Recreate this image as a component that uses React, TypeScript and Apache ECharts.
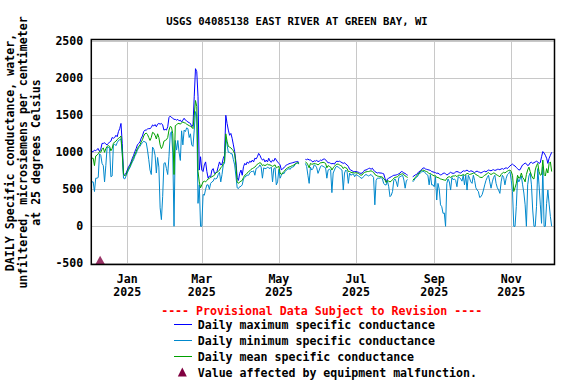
import React, { useEffect, useRef } from "react";
import * as echarts from "echarts";

const START_DATE = "2024-12-04";
const AXIS_MIN = "2024-12-03T12:00:00Z";
const AXIS_MAX = "2025-12-05T06:00:00Z";
const X_TICK_DATES = ["2025-01-01", "2025-03-01", "2025-05-01", "2025-07-01", "2025-09-01", "2025-11-01"];
const MONTHS = ["Jan", "Feb", "Mar", "Apr", "May", "Jun", "Jul", "Aug", "Sep", "Oct", "Nov", "Dec"];

const TITLE = "USGS 04085138 EAST RIVER AT GREEN BAY, WI";
const Y_NAME = "DAILY Specific conductance, water,\nunfiltered, microsiemens per centimeter\nat 25 degrees Celsius";
const PROVISIONAL = "---- Provisional Data Subject to Revision ----";
const SERIES_NAMES = ["Daily maximum specific conductance", "Daily minimum specific conductance", "Daily mean specific conductance"];
const MALFUNCTION_LABEL = "Value affected by equipment malfunction.";

const malfunctionDates = ["2024-12-10T12:00:00Z"];
const malfunctionValues = [-500];

const N = null;

// Daily maximum, one value per day from 2024-12-04
const maxVals = [
  1008,1008,1030,1020,1040,1050,1010,1040,1120,1120,
  1130,1110,1100,1120,1140,1150,1200,1190,1200,1230,
  1210,1280,1320,1390,1120,715,700,715,760,
  805,830,870,920,960,1010,1050,1100,1120,1140,
  1190,1220,1280,1300,1300,1315,1320,1320,1335,1370,
  1355,1375,1345,1380,1390,1380,1390,1370,1300,1310,
  1300,1345,1470,1490,1470,1460,1445,1445,1435,1445,
  1425,1435,1410,1435,1460,1435,1425,1410,1400,1390,
  1345,1370,1750,2130,2090,1750,760,940,760,
  740,830,870,740,650,680,670,760,780,715,
  720,740,805,870,830,840,920,960,1500,1390,
  1300,1230,1255,1190,1100,1010,870,660,620,715,
  760,690,805,850,830,870,850,880,865,895,
  870,920,910,940,985,960,920,895,910,870,
  895,870,920,880,865,895,880,920,895,870,
  850,830,760,780,790,810,830,835,845,850,
  855,860,865,870,875,875,860,
  N,N,N,N,
  905,900,910,895,900,880,870,885,880,890,
  875,880,895,890,905,910,900,875,860,860,
  850,845,850,840,870,880,875,880,870,860,850,
  860,840,830,810,770,760,750,740,740,740,
  735,730,720,715,720,740,760,760,770,780,
  785,770,785,760,740,730,720,725,720,720,
  715,710,650,600,640,650,660,670,680,690,
  690,695,700,710,720,740,735,720,715,700,690,
  N,N,N,
  670,680,695,700,720,740,745,770,785,790,
  775,770,765,760,755,740,735,730,725,715,
  720,705,695,700,715,720,710,695,700,720,
  730,720,715,720,735,740,735,725,720,735,
  750,745,750,760,745,740,750,745,735,725,
  740,745,735,730,720,730,740,745,735,750,
  760,755,750,760,765,755,760,770,770,765,
  775,780,770,785,790,780,800,815,830,840,
  825,815,795,780,760,765,800,830,840,855,
  845,820,830,860,865,850,860,870,880,870,
  850,860,940,1010,990,960,920,850,920,960,
  1000
];

// Daily minimum
const minVals = [
  600,600,470,650,650,660,980,960,850,820,
  600,820,1060,1070,1050,670,680,1100,1110,1090,
  1130,1160,1170,1180,980,650,640,680,720,
  760,790,830,870,900,950,980,1030,1060,1080,
  1110,1130,1150,1140,1130,1030,900,760,700,1070,
  1040,960,720,930,800,250,90,400,850,860,
  780,700,940,1250,1280,1000,0,1160,1030,1160,
  1000,890,1290,1100,1300,1280,1330,1320,1200,1250,
  1100,1080,1300,1550,1480,310,560,0,0,
  430,420,500,560,560,500,580,600,610,650,
  640,650,700,730,600,700,830,850,1200,1100,
  1000,1000,980,980,900,830,680,520,510,535,
  540,560,640,660,680,690,690,720,740,740,
  750,690,780,790,800,830,800,650,790,780,
  780,800,790,780,800,600,780,790,560,600,
  770,650,690,720,710,740,760,770,780,770,
  800,800,810,840,850,855,840,
  N,N,N,N,
  850,810,690,580,800,760,780,830,820,790,
  715,760,810,820,810,800,790,650,760,770,
  760,455,720,760,800,810,800,790,770,760,490,
  720,760,740,580,720,690,700,710,670,700,
  690,680,670,650,650,670,690,700,690,680,
  690,700,680,660,290,620,650,650,650,660,
  640,580,560,560,610,535,400,420,470,620,
  640,600,535,660,670,680,690,625,515,620,630,
  N,N,N,
  600,620,650,660,680,710,720,735,740,740,
  720,700,690,560,700,560,560,535,670,355,
  580,500,290,265,175,180,0,580,640,600,
  490,660,630,640,620,535,670,660,640,610,
  690,560,690,490,690,650,600,580,690,620,
  520,490,470,390,400,430,490,560,620,660,
  690,600,515,600,660,690,580,520,490,445,
  600,690,660,560,650,700,715,740,620,470,
  0,0,265,650,600,640,680,560,450,290,
  0,560,680,720,560,220,0,0,265,780,
  560,300,40,805,0,0,310,490,300,130,
  0
];

// Daily mean
const meanVals = [
  920,920,820,950,960,980,1010,1000,1040,1060,
  1000,1050,1080,1090,1080,1020,1050,1120,1140,1150,
  1170,1190,1200,1220,1000,700,680,700,740,
  780,810,850,890,930,970,1010,1050,1080,1100,
  1140,1170,1220,1250,1260,1240,1200,1160,1200,1270,
  1260,1230,1180,1250,1200,1100,1050,1080,1150,1160,
  1170,1200,1300,1350,1340,1250,700,1360,1370,1390,
  1390,1380,1400,1410,1400,1395,1380,1370,1360,1350,
  1340,1320,1500,1700,1620,740,600,520,560,
  600,610,600,620,640,650,660,670,680,690,
  720,730,740,760,790,810,850,880,1250,1150,
  1080,1070,1060,1040,1020,980,820,600,580,600,
  610,620,660,690,700,720,740,750,770,780,
  790,800,820,840,850,860,850,820,830,820,
  830,840,830,830,820,810,820,830,790,800,
  810,720,700,720,740,760,780,790,800,805,
  815,820,830,845,855,860,850,
  N,N,N,N,
  870,860,830,790,850,840,840,850,845,840,
  830,840,860,860,865,860,850,790,820,810,
  800,760,790,810,830,840,840,830,820,810,780,
  800,790,780,740,740,730,725,725,720,725,
  720,715,700,690,695,720,730,735,740,740,
  745,750,740,730,700,690,680,675,670,670,
  665,640,630,590,620,610,600,610,630,650,
  660,665,670,690,700,705,710,700,680,670,660,
  N,N,N,
  620,640,660,680,700,720,735,755,760,755,
  745,740,730,710,715,700,690,680,685,660,
  660,650,640,635,630,625,620,650,665,670,
  660,675,680,680,685,670,690,690,685,690,
  700,690,700,715,710,700,705,710,720,715,
  700,690,680,665,660,660,675,690,700,715,
  725,710,700,710,720,715,700,690,680,670,
  700,720,730,720,735,745,755,760,740,690,
  470,520,580,690,650,660,720,660,640,600,
  700,760,800,740,690,650,640,760,820,850,
  740,690,700,895,700,680,780,720,850,870,
  740
];

const FONT = "'DejaVu Sans Mono', monospace";

function toPairs(vals: (number | null)[]) {
  const t0 = new Date(START_DATE + "T00:00:00Z").getTime();
  return vals.map((v, i) => [t0 + i * 86400000, v]);
}

export default function App() {
  const ref = useRef<HTMLDivElement>(null);
  useEffect(() => {
    document.body.style.margin = "0";
    if (!ref.current) return;
    const chart = echarts.init(ref.current, undefined, { renderer: "svg" });
    const left = 91.3, top = 41.3, plotW = 463.2, plotH = 222;
    const tickVals = X_TICK_DATES.map((d) => new Date(d + "T00:00:00Z").getTime());
    const option: any = {
      animation: false,
      backgroundColor: "#ffffff",
      title: {
        text: TITLE,
        left: 292,
        top: 10,
        textAlign: "center",
        textStyle: { fontFamily: FONT, fontWeight: "bold", fontSize: 10.6, color: "#000" },
      },
      grid: { left, top, width: plotW, height: plotH },
      xAxis: {
        type: "value",
        min: new Date(AXIS_MIN).getTime(),
        max: new Date(AXIS_MAX).getTime(),
        axisLine: { show: false },
        axisTick: { show: false, customValues: tickVals },
        axisLabel: {
          customValues: tickVals,
          formatter: (v: number) => {
            const d = new Date(v);
            return MONTHS[d.getUTCMonth()] + "\n" + d.getUTCFullYear();
          },
          fontFamily: FONT,
          fontWeight: "bold",
          fontSize: 11.6,
          lineHeight: 13,
          color: "#000",
          margin: 9,
        },
        splitLine: { show: true, lineStyle: { color: "#c8c8c8", width: 1 } },
      },
      yAxis: {
        type: "value",
        min: -500,
        max: 2500,
        interval: 500,
        axisLine: { show: false },
        axisTick: { show: false },
        axisLabel: {
          formatter: (v: number) => String(v),
          fontFamily: FONT,
          fontWeight: "bold",
          fontSize: 11.6,
          color: "#000",
          margin: 8,
        },
        splitLine: { show: true, lineStyle: { color: "#c8c8c8", width: 1 } },
      },
      series: [
        {
          name: SERIES_NAMES[0],
          type: "line",
          data: toPairs(maxVals),
          showSymbol: false,
          connectNulls: false,
          lineStyle: { color: "#0000ff", width: 1 },
          itemStyle: { color: "#0000ff" },
        },
        {
          name: SERIES_NAMES[1],
          type: "line",
          data: toPairs(minVals),
          showSymbol: false,
          connectNulls: false,
          lineStyle: { color: "#0088cc", width: 1 },
          itemStyle: { color: "#0088cc" },
        },
        {
          name: SERIES_NAMES[2],
          type: "line",
          data: toPairs(meanVals),
          showSymbol: false,
          connectNulls: false,
          lineStyle: { color: "#00a000", width: 1 },
          itemStyle: { color: "#00a000" },
        },
        {
          name: MALFUNCTION_LABEL,
          type: "scatter",
          data: malfunctionDates.map((d, i) => [new Date(d).getTime(), malfunctionValues[i]]),
          symbol: "triangle",
          symbolSize: [10, 9],
          symbolOffset: [0, -3],
          itemStyle: { color: "#800040" },
          z: 5,
        },
      ],
      graphic: [
        {
          type: "rect",
          shape: { x: 91.3, y: 39.5, width: 463.2, height: 225 },
          style: { fill: "none", stroke: "#000", lineWidth: 1.5 },
          silent: true,
          z: 10,
        },
        {
          type: "text",
          x: 23,
          y: 152.5,
          rotation: Math.PI / 2,
          style: {
            text: Y_NAME,
            fontFamily: FONT,
            fontWeight: "bold",
            fontSize: 11.6,
            lineHeight: 13.3,
            fill: "#000",
            textAlign: "center",
            textVerticalAlign: "middle",
          },
        },
        {
          type: "text",
          x: 321.7,
          y: 311,
          style: {
            text: PROVISIONAL,
            fontFamily: FONT,
            fontWeight: "bold",
            fontSize: 11.6,
            fill: "#ff0000",
            textAlign: "center",
            textVerticalAlign: "middle",
          },
        },
        { type: "line", shape: { x1: 174, y1: 324.5, x2: 192, y2: 324.5 }, style: { stroke: "#0000ff", lineWidth: 1 } },
        { type: "line", shape: { x1: 174, y1: 340.5, x2: 192, y2: 340.5 }, style: { stroke: "#0088cc", lineWidth: 1 } },
        { type: "line", shape: { x1: 174, y1: 356.5, x2: 192, y2: 356.5 }, style: { stroke: "#00a000", lineWidth: 1 } },
        { type: "polygon", shape: { points: [[177.8, 376.5], [186.8, 376.5], [182.3, 367.5]] }, style: { fill: "#800040" } },
        ...[SERIES_NAMES[0], SERIES_NAMES[1], SERIES_NAMES[2], MALFUNCTION_LABEL].map((t, i) => ({
          type: "text",
          x: 197.7,
          y: [325, 341, 356.7, 372.7][i],
          style: {
            text: t,
            fontFamily: FONT,
            fontWeight: "bold",
            fontSize: 11.6,
            fill: "#000",
            textAlign: "left",
            textVerticalAlign: "middle",
          },
        })),
      ],
    };
    chart.setOption(option);
    return () => chart.dispose();
  }, []);
  return <div ref={ref} style={{ width: 576, height: 384 }} />;
}
